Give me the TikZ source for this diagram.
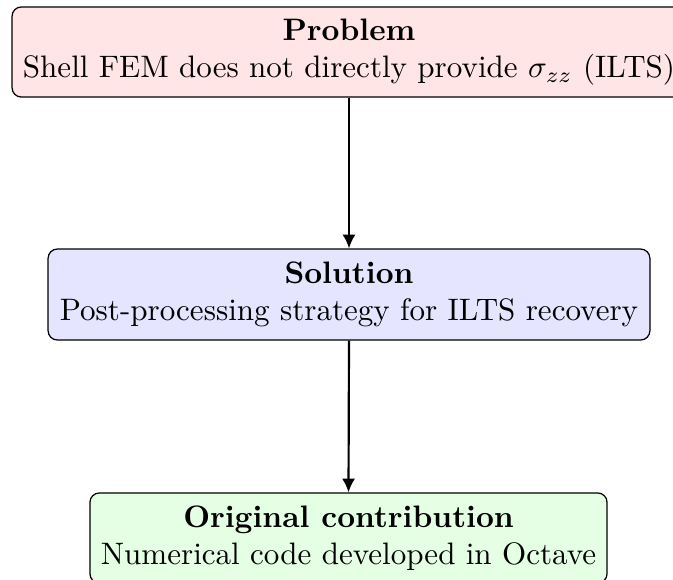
\documentclass[tikz,border=0pt]{standalone}
\usetikzlibrary{arrows.meta}
\begin{document}
\begin{tikzpicture}[x=0.322pt,y=-0.322pt,
  box/.style={draw=black, rounded corners=3pt, align=center, inner sep=0pt, line width=0.4pt},
  conn/.style={-{Latex[length=4.4pt,width=4.2pt]}, line width=0.7pt}]
\useasboundingbox (0,0) rectangle (673,579);
\clip (0,0) rectangle (673,579);
\node[box, fill=red!10, minimum width=217pt, minimum height=29pt] (prob) at (349,52)
  {\textbf{Problem}\\Shell FEM does not directly provide $\sigma_{zz}$ (ILTS)};
\node[box, fill=blue!10, minimum width=193.8pt, minimum height=29.3pt] (sol) at (349,294.5)
  {\textbf{Solution}\\Post-processing strategy for ILTS recovery};
\node[box, fill=green!10, minimum width=166.5pt, minimum height=29pt] (orig) at (348.5,538)
  {\textbf{Original contribution}\\Numerical code developed in Octave};
\draw[conn] (prob.south) -- (sol.north);
\draw[conn] (sol.south) -- (orig.north);
\end{tikzpicture}
\end{document}
